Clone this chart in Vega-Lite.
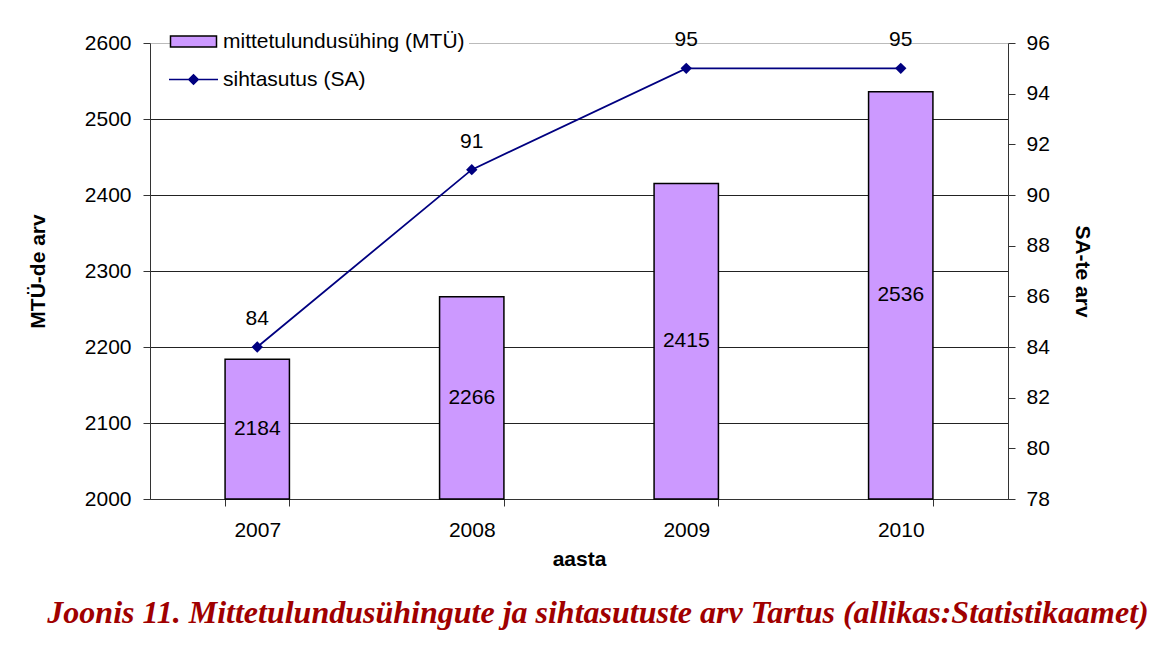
{
  "$schema": "https://vega.github.io/schema/vega-lite/v6.json",
  "width": 858,
  "height": 456,
  "autosize": "none",
  "padding": {"left": 150, "top": 43, "right": 165, "bottom": 172},
  "background": "white",
  "config": {
    "view": {"stroke": null},
    "font": "Liberation Sans",
    "axis": {
      "labelFont": "Liberation Sans",
      "labelFontSize": 21,
      "labelColor": "black",
      "titleFont": "Liberation Sans",
      "titleFontSize": 21,
      "titleFontWeight": "bold",
      "titleColor": "black",
      "domainColor": "#333333",
      "tickColor": "#333333",
      "tickSize": 7,
      "gridColor": "#222222",
      "gridOpacity": 1
    },
    "legend": {
      "orient": "none",
      "title": null,
      "fillColor": "white",
      "padding": 4,
      "labelFont": "Liberation Sans",
      "labelFontSize": 21,
      "labelColor": "black",
      "labelLimit": 0,
      "labelOffset": 19,
      "symbolSize": 100,
      "symbolStrokeWidth": 1.5,
      "symbolOpacity": 1
    }
  },
  "title": {
    "text": "Joonis 11. Mittetulundusühingute ja sihtasutuste arv Tartus (allikas:Statistikaamet)",
    "orient": "bottom",
    "anchor": "middle",
    "frame": "group",
    "font": "Liberation Serif",
    "fontSize": 32,
    "fontStyle": "italic",
    "fontWeight": "bold",
    "color": "#A00000",
    "offset": 29,
    "dx": 19
  },
  "data": {
    "values": [
      {"year": "2007", "mtu": 2184, "sa": 84},
      {"year": "2008", "mtu": 2266, "sa": 91},
      {"year": "2009", "mtu": 2415, "sa": 95},
      {"year": "2010", "mtu": 2536, "sa": 95}
    ]
  },
  "encoding": {
    "x": {
      "field": "year",
      "type": "nominal",
      "scale": {"paddingInner": 0.7, "paddingOuter": 0.35},
      "axis": {
        "title": "aasta",
        "labelAngle": 0,
        "tickBand": "extent",
        "labelPadding": 13,
        "titlePadding": 8
      }
    }
  },
  "layer": [
    {
      "encoding": {
        "y": {
          "field": "mtu",
          "type": "quantitative",
          "scale": {"domain": [2000, 2600], "zero": false, "nice": false},
          "axis": {
            "title": "MTÜ-de arv",
            "format": "d",
            "values": [2000, 2100, 2200, 2300, 2400, 2500, 2600],
            "grid": true,
            "gridColor": {"condition": {"test": "datum.value === 2600", "value": "#BBBBBB"}, "value": "#222222"},
            "labelPadding": 12,
            "titlePadding": 36
          }
        }
      },
      "layer": [
        {
          "mark": {"type": "bar", "stroke": "black", "strokeWidth": 1.5},
          "encoding": {
            "y2": {"datum": 2000},
            "fill": {
              "datum": "mittetulundusühing (MTÜ)",
              "scale": {"domain": ["mittetulundusühing (MTÜ)"], "range": ["#CC99FF"]},
              "legend": {
                "legendX": 29,
                "legendY": -16,
                "symbolType": "M-4.6,-1.1H4.6V1.1H-4.6Z",
                "symbolStrokeColor": "black",
                "symbolFillColor": "#CC99FF"
              }
            }
          }
        },
        {
          "transform": [{"calculate": "(datum.mtu + 2000) / 2", "as": "labelPos"}],
          "mark": {"type": "text", "fontSize": 21, "font": "Liberation Sans", "color": "black", "baseline": "middle"},
          "encoding": {
            "y": {"field": "labelPos", "type": "quantitative"},
            "text": {"field": "mtu", "type": "quantitative"}
          }
        }
      ]
    },
    {
      "encoding": {
        "y": {
          "field": "sa",
          "type": "quantitative",
          "scale": {"domain": [78, 96], "zero": false, "nice": false},
          "axis": {
            "orient": "right",
            "title": "SA-te arv",
            "values": [78, 80, 82, 84, 86, 88, 90, 92, 94, 96],
            "grid": false,
            "labelPadding": 11,
            "titlePadding": 22
          }
        }
      },
      "layer": [
        {
          "mark": {"type": "line", "strokeWidth": 1.8},
          "encoding": {
            "stroke": {
              "datum": "sihtasutus (SA)",
              "scale": {"domain": ["sihtasutus (SA)"], "range": ["#000080"]},
              "legend": {
                "legendX": 29,
                "legendY": 22,
                "symbolType": "M-4.9,0H4.9M0,-0.95L0.95,0L0,0.95L-0.95,0Z",
                "symbolStrokeColor": "#000080",
                "symbolFillColor": "#000080"
              }
            }
          }
        },
        {
          "mark": {"type": "point", "shape": "diamond", "filled": true, "size": 130, "opacity": 1, "color": "#000080"}
        },
        {
          "mark": {"type": "text", "fontSize": 21, "font": "Liberation Sans", "color": "black", "baseline": "middle", "dy": -28},
          "encoding": {"text": {"field": "sa", "type": "quantitative"}}
        }
      ]
    }
  ],
  "resolve": {"scale": {"y": "independent"}, "axis": {"y": "independent"}}
}
